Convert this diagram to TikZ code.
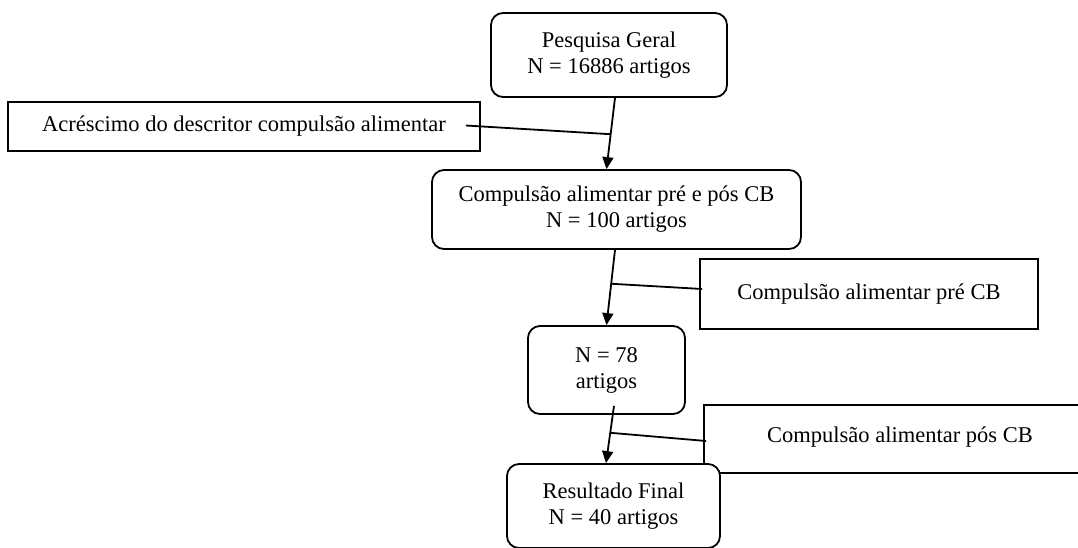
\documentclass[tikz,border=0pt]{standalone}
\usepackage{fontspec}
\setmainfont{Liberation Serif}
\usetikzlibrary{arrows.meta, positioning, calc}

\begin{document}
\begin{tikzpicture}[x=1pt, y=-1pt,
    box/.style={rectangle, draw=black, line width=1.8pt, fill=white, inner sep=0pt,
                align=center, font=\fontsize{22.5}{26}\selectfont},
    flow/.style={box, rounded corners=12pt},
    arrow/.style={line width=1.8pt, -{Triangle[length=12pt, width=11pt]}},
    link/.style={line width=1.8pt}
]
    \useasboundingbox (0,0) rectangle (1078,547);
    \clip (0,0) rectangle (1078,547);

    % Main flow
    \node[flow, minimum width=236pt, minimum height=84pt] (geral) at (609,55) {
        Pesquisa Geral\\
        N = 16886 artigos
    };
    \node[box, minimum width=472pt, minimum height=49pt] (acresc) at (244,126.5)
        {Acréscimo do descritor compulsão alimentar};
    \node[flow, minimum width=369pt, minimum height=79pt] (cb) at (616.5,209.5) {
        Compulsão alimentar pré e pós CB\\
        N = 100 artigos
    };
    \node[box, minimum width=338pt, minimum height=70pt] (pre) at (869,294)
        {Compulsão alimentar pré CB};
    \node[flow, minimum width=157pt, minimum height=88pt] (n78) at (606.5,370) {
        N = 78\\
        artigos
    };
    \node[box, minimum width=392pt, minimum height=68pt] (pos) at (900,439)
        {\raisebox{8pt}{Compulsão alimentar pós CB}};
    \node[flow, minimum width=213pt, minimum height=84pt] (final) at (613.5,506) {
        Resultado Final\\
        N = 40 artigos
    };

    % Arrows
    \draw[arrow] ([xshift=6pt]geral.south) -- coordinate[pos=0.51] (j1) ([xshift=-10pt]cb.north);
    \draw[link] ([xshift=-15pt,yshift=1pt]acresc.east) -- (j1);

    \draw[arrow] ([xshift=-1.5pt]cb.south) -- coordinate[pos=0.45] (j2) (n78.north);
    \draw[link] ([xshift=3pt,yshift=5pt]pre.west) -- (j2);

    \draw[arrow] ([xshift=7.5pt,yshift=9pt]n78.south) -- coordinate[pos=0.47] (j3) ([xshift=-7.5pt]final.north);
    \draw[link] ([xshift=3pt,yshift=-2pt]pos.west) -- (j3);
\end{tikzpicture}
\end{document}
